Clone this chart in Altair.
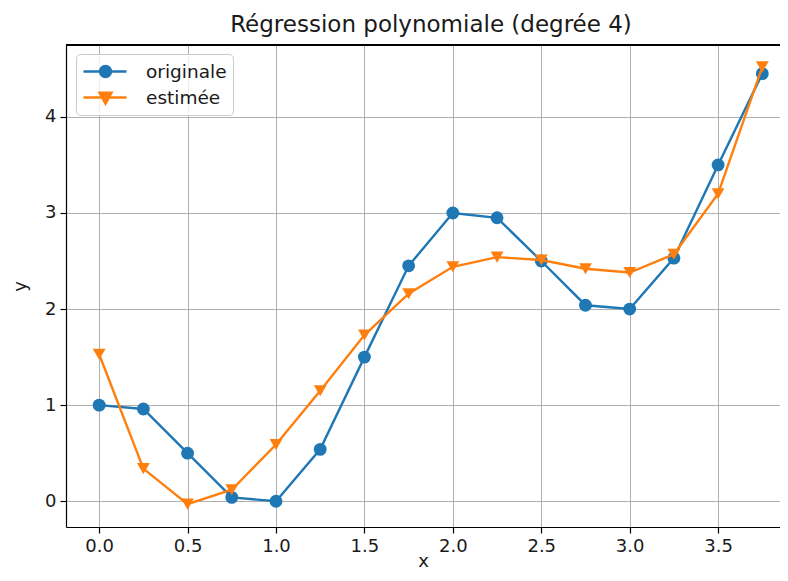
import altair as alt
import pandas as pd

# ---- data ----
x_vals = [0.0, 0.25, 0.5, 0.75, 1.0, 1.25, 1.5, 1.75, 2.0, 2.25, 2.5, 2.75, 3.0, 3.25, 3.5, 3.75]
y_originale = [1.0, 0.96, 0.5, 0.04, 0.0, 0.54, 1.5, 2.45, 3.0, 2.95, 2.5, 2.04, 2.0, 2.53, 3.5, 4.45]
y_estimee = [1.53, 0.34, -0.03, 0.12, 0.59, 1.15, 1.73, 2.16, 2.44, 2.54, 2.51, 2.42, 2.38, 2.57, 3.2, 4.52]
series_names = ["originale", "estimée"]
series_colors = ["#1f77b4", "#ff7f0e"]
x_ticks = [0.0, 0.5, 1.0, 1.5, 2.0, 2.5, 3.0, 3.5]
y_ticks = [0, 1, 2, 3, 4]
x_domain = [-0.1875, 3.850]
y_domain = [-0.268, 4.748]
title_text = "Régression polynomiale (degrée 4)"

df = pd.DataFrame({
    "x": x_vals + x_vals,
    "y": y_originale + y_estimee,
    "series": [series_names[0]] * len(x_vals) + [series_names[1]] * len(x_vals),
})

FONT = "DejaVu Sans"
TXT = "#1a1a1a"

# legend glyphs: short line with the marker on it (unit = 10 px at symbolSize 400)
circle_path = "M-1,0L3.3,0M0.65,0A0.55,0.55,0,1,0,1.75,0A0.55,0.55,0,1,0,0.65,0Z"
tri_path = "M-1,0L3.3,0M0.6,-0.48L1.8,-0.48L1.2,0.62Z"

legend = alt.Legend(
    title=None,
    orient="none",
    legendX=10,
    legendY=9,
    direction="vertical",
    padding=6,
    fillColor="rgba(255,255,255,0.8)",
    strokeColor="#cccccc",
    cornerRadius=4,
    labelFont=FONT,
    labelFontSize=18.5,
    labelColor=TXT,
    labelOffset=41,
    rowPadding=4,
    symbolSize=400,
    symbolStrokeWidth=2.4,
    symbolFillColor="#888888",
    symbolStrokeColor="#888888",
    symbolOpacity=1,
)

xenc = alt.X("x:Q", scale=alt.Scale(domain=x_domain, nice=False, zero=False),
             axis=alt.Axis(values=x_ticks, format=".1f", title="x",
                           titleBaseline="alphabetic", titlePadding=11))
yenc = alt.Y("y:Q", scale=alt.Scale(domain=y_domain, nice=False, zero=False),
             axis=alt.Axis(values=y_ticks, format="d", title="y", titlePadding=15))
cenc = alt.Color("series:N", scale=alt.Scale(domain=series_names, range=series_colors), legend=None)

base = alt.Chart(df)
layers = []
shapes = ["circle", "triangle-down"]
for name, shp in zip(series_names, shapes):
    sub = base.transform_filter(alt.datum.series == name)
    layers.append(sub.mark_line(strokeWidth=2.4).encode(x=xenc, y=yenc, color=cenc))
    layers.append(sub.mark_point(shape=shp, filled=True, size=165, opacity=1).encode(x=xenc, y=yenc, color=cenc))

# legend-only layer (invisible marks)
legend_layer = base.mark_point(filled=True, opacity=0, size=1).encode(
    x=xenc, y=yenc,
    fill=alt.Fill("series:N", scale=alt.Scale(domain=series_names, range=series_colors), legend=legend),
    stroke=alt.Stroke("series:N", scale=alt.Scale(domain=series_names, range=series_colors), legend=legend),
    shape=alt.Shape("series:N", scale=alt.Scale(domain=series_names, range=[circle_path, tri_path]), legend=legend),
)

top_border = alt.Chart(df).mark_rule(color="black", strokeWidth=1.2).encode(y=alt.datum(y_domain[1]))

chart = alt.layer(legend_layer, *layers, top_border).properties(
    width=714,
    height=482,
    padding={"left": 58, "top": 37, "right": 0, "bottom": 42},
    autosize=alt.AutoSizeParams(type="none"),
    title=alt.TitleParams(title_text, font=FONT, fontSize=23, fontWeight="normal",
                          color=TXT, anchor="middle", offset=7, dx=8),
).configure_view(stroke=None).configure_axis(
    labelFont=FONT, labelFontSize=18, labelColor=TXT,
    titleFont=FONT, titleFontSize=18, titleFontWeight="normal", titleColor=TXT,
    domainColor="black", domainWidth=1.2,
    tickColor="black", tickWidth=1.2, tickSize=6, labelPadding=4,
    gridColor="#b0b0b0", gridWidth=1,
)

chart.save("out.html", embed_options={"renderer": "svg", "actions": False})
